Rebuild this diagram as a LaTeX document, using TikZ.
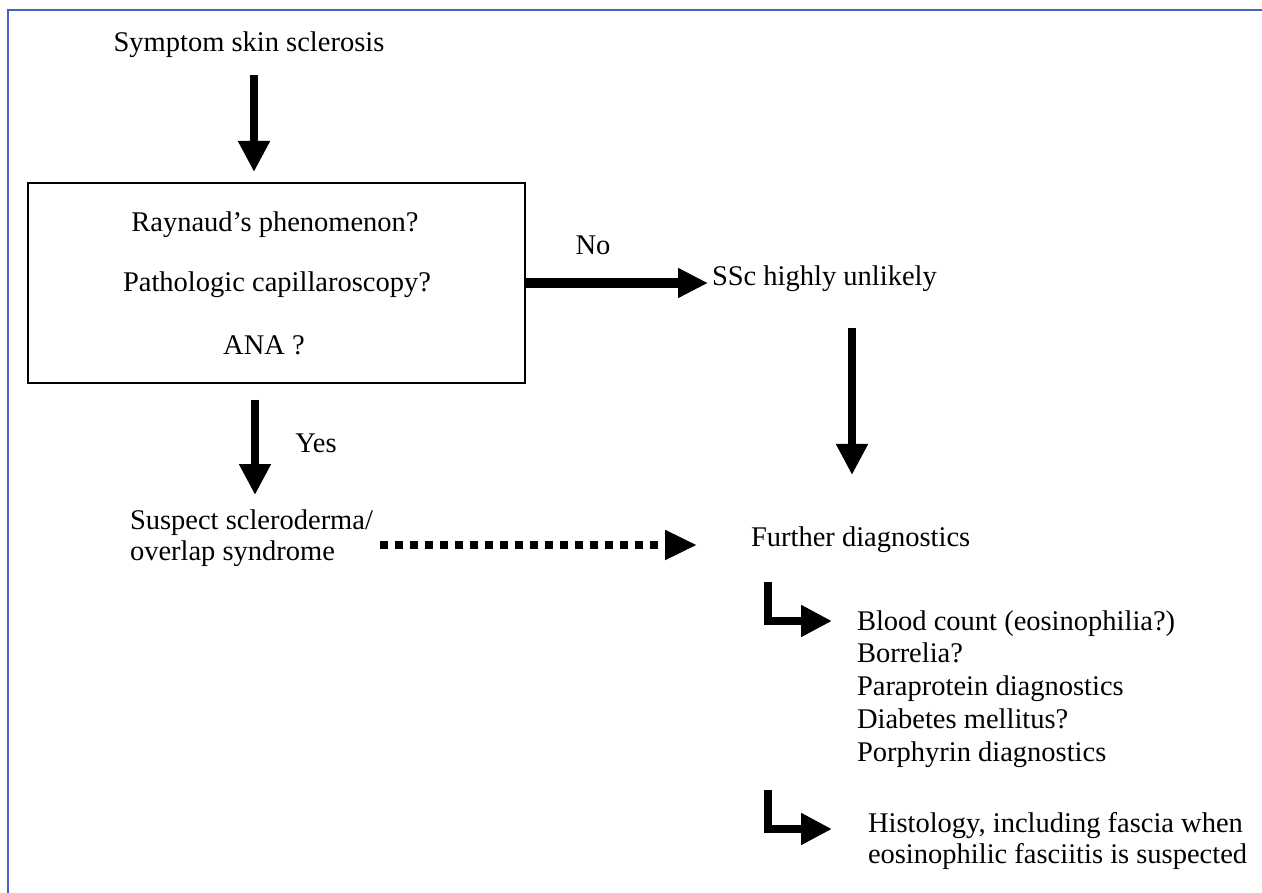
\documentclass[tikz,border=0pt]{standalone}
\usepackage{fontspec}
\setmainfont{Liberation Serif}
\usetikzlibrary{arrows.meta,calc}
\definecolor{frameblue}{HTML}{4465C4}
\begin{document}
\begin{tikzpicture}[x=1pt,y=-1pt,
  every node/.style={font=\fontsize{28.5}{31.5}\selectfont, inner sep=0pt, outer sep=0pt},
  txt/.style={align=left},
  item/.style={anchor=base west},
  fat/.style={line width=8.5pt, -{Triangle[length=31pt,width=30pt]}},
  fath/.style={line width=9.5pt, -{Triangle[length=30pt,width=28pt]}},
  dots/.style={line width=8pt, dash pattern=on 8pt off 7pt, -{Triangle[length=32pt,width=28pt]}},
  lbox/.style={draw, line width=1.6pt, minimum width=497pt, minimum height=200pt}
]
\useasboundingbox (0,0) rectangle (1262,893);
\draw[frameblue, line width=2pt] (1262,10) -- (8,10) -- (8,893);

\node (sym) at (249,45) {Symptom skin sclerosis};
\node[lbox] (box) at (276.5,283) {};
\node (q1) at (275,225) {Raynaud's phenomenon?};
\node (q2) at (277,285) {Pathologic capillaroscopy?};
\node (q3) at (264,345) {ANA ?};
\node (no) at (593,245) {No};
\node[anchor=west] (ssc) at (712,279) {SSc highly unlikely};
\node (yes) at (316,443) {Yes};
\node[anchor=west, txt] (sus) at (130,538) {Suspect scleroderma/\\overlap syndrome};
\node[anchor=west] (fur) at (751,540) {Further diagnostics};
\node[item] (l1) at (857,630) {Blood count (eosinophilia?)};
\node[item] (l2) at (857,662.5) {Borrelia?};
\node[item] (l3) at (857,695) {Paraprotein diagnostics};
\node[item] (l4) at (857,728) {Diabetes mellitus?};
\node[item] (l5) at (857,761) {Porphyrin diagnostics};
\node[anchor=west, txt] (hist) at (868,841) {Histology, including fascia when\\eosinophilic fasciitis is suspected};

\draw[fat] ($(box.north)+(-22.5,-108)$) -- ($(box.north)+(-22.5,-11)$);
\draw[fath] (box.east |- 0,283) -- ($(ssc.west |- 0,283)+(-4,0)$);
\draw[fat] ($(ssc.west |- 0,328)+(140,0)$) -- ($(fur.west |- 0,475)+(101,0)$);
\draw[fat] ($(box.south)+(-21.5,17)$) -- ($(box.south)+(-21.5,112)$);
\draw[dots] ($(sus.east |- 0,545)+(7,0)$) -- ($(fur.west |- 0,545)+(-54,0)$);
\draw[fat] ($(l1.west |- 0,582)+(-89,0)$) |- ($(l1.west |- 0,621)+(-25,0)$);
\draw[fat] ($(hist.west |- 0,790)+(-100,0)$) |- ($(hist.west |- 0,829)+(-36,0)$);
\end{tikzpicture}
\end{document}
